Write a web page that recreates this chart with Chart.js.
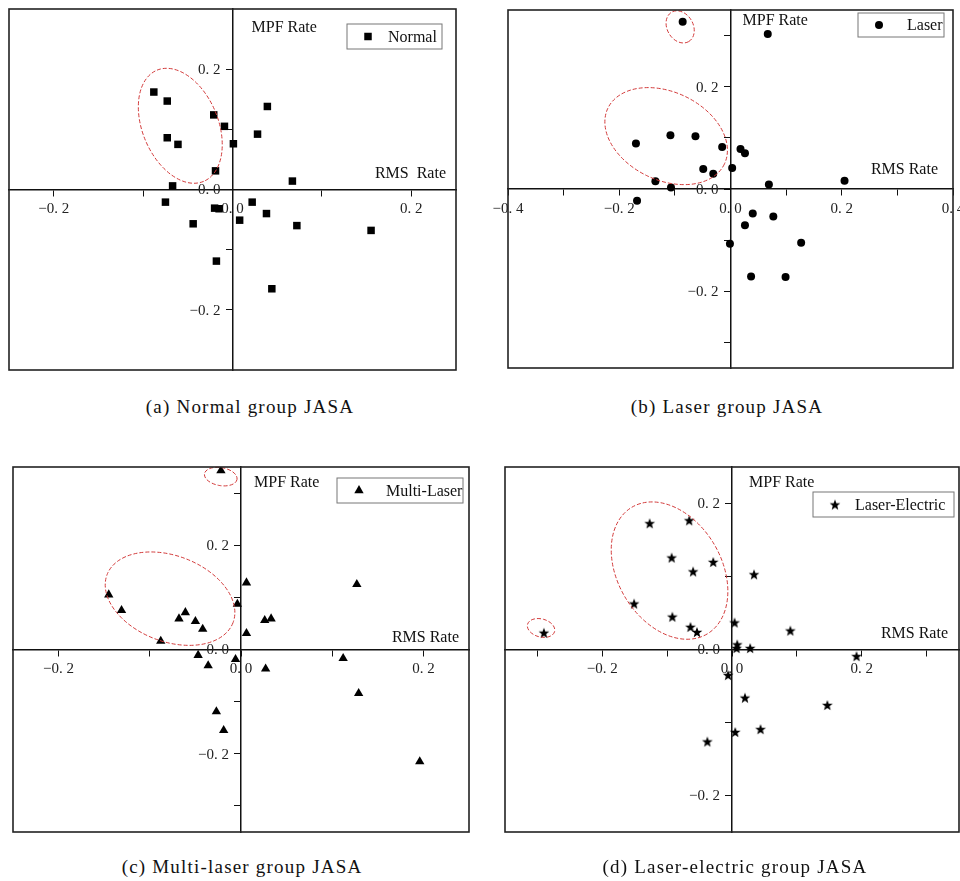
<!DOCTYPE html>
<html>
<head>
<meta charset="utf-8">
<script src="https://cdn.jsdelivr.net/npm/chart.js@4.4.1/dist/chart.umd.min.js"></script>
<style>
  html, body { margin: 0; padding: 0; background: #fff; overflow: hidden; }
  body { width: 960px; height: 881px; position: relative; }
  canvas { position: absolute; }
  .cap {
    position: absolute; width: 320px; text-align: center; white-space: nowrap;
    font-family: "Liberation Serif", serif; font-size: 19px; line-height: 19px;
    letter-spacing: 1.2px; color: #111;
  }
</style>
</head>
<body>
<canvas id="chart-a"></canvas>
<canvas id="chart-b"></canvas>
<canvas id="chart-c"></canvas>
<canvas id="chart-d"></canvas>
<div class="cap" style="left:90px; top:397px;">(a) Normal group JASA</div>
<div class="cap" style="left:567px; top:397px;">(b) Laser group JASA</div>
<div class="cap" style="left:82px; top:857px;">(c) Multi-laser group JASA</div>
<div class="cap" style="left:575px; top:857px;">(d) Laser-electric group JASA</div>
<script>
// (a) Normal group
const normalX = [-0.088, -0.073, -0.021, -0.009, 0.039, 0.028, 0.001, -0.073, -0.061, -0.019, 0.067, -0.067,
  -0.075, -0.020, -0.015, -0.044, 0.008, 0.022, 0.038, 0.072, 0.155, -0.018, 0.044];
const normalY = [0.162, 0.147, 0.124, 0.105, 0.138, 0.092, 0.076, 0.086, 0.075, 0.031, 0.014, 0.006,
  -0.021, -0.031, -0.032, -0.057, -0.051, -0.021, -0.040, -0.060, -0.068, -0.119, -0.165];

// (b) Laser group
const laserX = [-0.086, 0.067, -0.170, -0.108, -0.063, -0.015, 0.018, 0.026, 0.003, -0.049, -0.031, -0.135,
  -0.107, 0.069, 0.205, -0.168, 0.040, 0.077, 0.026, -0.001, 0.127, 0.037, 0.099];
const laserY = [0.327, 0.303, 0.089, 0.105, 0.103, 0.082, 0.078, 0.070, 0.041, 0.039, 0.030, 0.015,
  0.003, 0.009, 0.016, -0.023, -0.048, -0.054, -0.071, -0.107, -0.105, -0.171, -0.172];

// (c) Multi-laser group
const multiX = [-0.022, 0.006, 0.127, -0.145, -0.131, -0.004, -0.061, -0.068, -0.050, -0.042, 0.026, 0.033,
  0.006, -0.088, -0.047, -0.036, -0.006, 0.027, 0.112, 0.129, -0.027, -0.019, 0.196];
const multiY = [0.343, 0.128, 0.125, 0.105, 0.075, 0.087, 0.071, 0.059, 0.054, 0.039, 0.056, 0.059,
  0.031, 0.016, -0.011, -0.031, -0.019, -0.037, -0.017, -0.084, -0.119, -0.155, -0.215];

// (d) Laser-electric group
const elecX = [-0.127, -0.066, -0.093, -0.029, -0.060, 0.034, -0.151, -0.092, -0.064, -0.054, 0.004, 0.090,
  -0.290, 0.008, 0.007, 0.028, 0.192, -0.006, 0.020, 0.147, 0.044, 0.005, -0.038];
const elecY = [0.173, 0.177, 0.126, 0.120, 0.107, 0.103, 0.063, 0.045, 0.031, 0.024, 0.037, 0.026,
  0.023, 0.007, 0.002, 0.002, -0.009, -0.035, -0.066, -0.076, -0.109, -0.113, -0.126];

// tick positions (labels only on the even ones)
const ticksA_X = [-0.2, -0.1, 0, 0.1, 0.2];
const ticksA_Y = [-0.2, -0.1, 0, 0.1, 0.2];
const ticksB_X = [-0.4, -0.3, -0.2, -0.1, 0, 0.1, 0.2, 0.3, 0.4];
const ticksB_Y = [-0.3, -0.2, -0.1, 0, 0.1, 0.2, 0.3];
const ticksC_X = [-0.2, -0.1, 0, 0.1, 0.2];
const ticksC_Y = [-0.3, -0.2, -0.1, 0, 0.1, 0.2, 0.3];
const ticksD_X = [-0.3, -0.2, -0.1, 0, 0.1, 0.2, 0.3];
const ticksD_Y = [-0.2, -0.1, 0, 0.1, 0.2];

const SERIF = '"Liberation Serif", "Times New Roman", serif';
const PAD = 24;

function makeStar(r) {
  const c = document.createElement('canvas');
  const s = Math.ceil(r * 2) + 2;
  c.width = s; c.height = s;
  const g = c.getContext('2d');
  g.fillStyle = '#000';
  g.beginPath();
  for (let i = 0; i < 10; i++) {
    const ang = -Math.PI / 2 + i * Math.PI / 5;
    const rr = i % 2 ? r * 0.42 : r;
    const px = s / 2 + rr * Math.cos(ang);
    const py = s / 2 + 0.6 + rr * Math.sin(ang);
    if (i === 0) g.moveTo(px, py); else g.lineTo(px, py);
  }
  g.closePath();
  g.fill();
  return c;
}
const starImg = makeStar(5.6);

function tickLabel(value) {
  const t = Math.round(value * 10);
  if (Math.abs(value * 10 - t) > 1e-6 || t % 2 !== 0) return '';
  return (t < 0 ? '\u2212' : '') + (Math.abs(t) / 10).toFixed(1).replace('.', '. ');
}

function drawMarker(ctx, style, r, x, y) {
  if (typeof style !== 'string') {
    ctx.drawImage(style, x - style.width / 2, y - style.height / 2);
    return;
  }
  ctx.beginPath();
  if (style === 'rect') {
    const h = r * Math.SQRT1_2;
    ctx.rect(x - h, y - h, 2 * h, 2 * h);
  } else if (style === 'circle') {
    ctx.arc(x, y, r, 0, Math.PI * 2);
  } else if (style === 'triangle') {
    for (let i = 0; i < 3; i++) {
      const a = i * 2 * Math.PI / 3;
      const px = x + r * Math.sin(a), py = y - r * Math.cos(a);
      if (i === 0) ctx.moveTo(px, py); else ctx.lineTo(px, py);
    }
    ctx.closePath();
  }
  ctx.fill();
}

// frame, ellipses, axis names, y tick labels and legend box
function panelPlugin(cfg) {
  return {
    id: 'panel',
    beforeDatasetsDraw(chart) {
      // y labels sit left of the centred axis (Chart.js puts them on the line)
      const ctx = chart.ctx;
      const sx = chart.scales.x, sy = chart.scales.y;
      const ox = sx.getPixelForValue(0);
      ctx.save();
      ctx.fillStyle = '#222';
      ctx.font = '15px ' + SERIF;
      ctx.textAlign = 'right';
      ctx.textBaseline = 'middle';
      sy.ticks.forEach((t) => {
        const lbl = tickLabel(t.value);
        if (lbl) ctx.fillText(lbl, ox - 12, sy.getPixelForValue(t.value) + 1);
      });
      ctx.restore();
    },
    afterDraw(chart) {
      const ctx = chart.ctx;
      const area = chart.chartArea;
      const sx = chart.scales.x, sy = chart.scales.y;
      const ox = sx.getPixelForValue(0), oy = sy.getPixelForValue(0);
      ctx.save();

      ctx.strokeStyle = '#d23a3a';
      ctx.lineWidth = 1;
      ctx.setLineDash([4, 2]);
      cfg.ellipses.forEach((e) => {
        ctx.beginPath();
        ctx.ellipse(sx.getPixelForValue(e.x), sy.getPixelForValue(e.y), e.a, e.b,
          e.angle * Math.PI / 180, 0, Math.PI * 2);
        ctx.stroke();
      });
      ctx.setLineDash([]);

      ctx.strokeStyle = '#222';
      ctx.lineWidth = 1.6;
      ctx.strokeRect(area.left, area.top, area.right - area.left, area.bottom - area.top);

      ctx.fillStyle = '#111';
      ctx.font = '16px ' + SERIF;
      ctx.textBaseline = 'alphabetic';
      ctx.textAlign = 'left';
      ctx.fillText('MPF Rate', ox + cfg.mpf.dx, area.top + cfg.mpf.dy);
      ctx.textAlign = 'right';
      ctx.fillText(cfg.rms.text, area.right - cfg.rms.dx, oy - cfg.rms.dy);

      const lg = cfg.legend;
      const bx = area.right - lg.right - lg.w, by = area.top + lg.top;
      ctx.fillStyle = '#fff';
      ctx.fillRect(bx, by, lg.w, lg.h);
      ctx.strokeStyle = '#777';
      ctx.lineWidth = 1;
      ctx.strokeRect(bx, by, lg.w, lg.h);
      ctx.fillStyle = '#000';
      drawMarker(ctx, cfg.pointStyle, cfg.radius, bx + lg.markerX, by + lg.h / 2);
      ctx.fillStyle = '#111';
      ctx.textAlign = 'left';
      ctx.textBaseline = 'middle';
      ctx.fillText(chart.data.datasets[0].label, bx + lg.textX, by + lg.h / 2 + 1);
      ctx.restore();
    },
  };
}

function axisOptions(min, max, tickValues, isX) {
  return {
    type: 'linear',
    min: min,
    max: max,
    position: isX ? { y: 0 } : { x: 0 },
    afterBuildTicks(scale) {
      scale.ticks = tickValues.map((v) => ({ value: v }));
    },
    grid: { drawOnChartArea: false, drawTicks: true, tickLength: 6, color: '#111', lineWidth: 1 },
    border: { display: true, color: '#111', width: 1.5 },
    ticks: {
      display: isX,
      autoSkip: false,
      maxRotation: 0,
      padding: 5,
      color: '#222',
      font: { family: SERIF, size: 15 },
      callback: tickLabel,
    },
  };
}

function createPanel(id, frame, xs, ys, cfg) {
  const canvas = document.getElementById(id);
  canvas.width = frame.w + 2 * PAD;
  canvas.height = frame.h + 2 * PAD;
  canvas.style.left = (frame.left - PAD) + 'px';
  canvas.style.top = (frame.top - PAD) + 'px';
  const points = xs.map((x, i) => ({ x: x, y: ys[i] }));
  return new Chart(canvas.getContext('2d'), {
    type: 'scatter',
    data: {
      datasets: [{
        label: cfg.label,
        data: points,
        pointStyle: cfg.pointStyle,
        pointRadius: cfg.radius,
        pointHoverRadius: cfg.radius,
        pointBackgroundColor: '#000',
        pointBorderWidth: 0,
      }],
    },
    options: {
      responsive: false,
      animation: false,
      devicePixelRatio: 1,
      layout: { padding: PAD },
      plugins: { legend: { display: false }, tooltip: { enabled: false } },
      scales: {
        x: axisOptions(cfg.xRange[0], cfg.xRange[1], cfg.xTicks, true),
        y: axisOptions(cfg.yRange[0], cfg.yRange[1], cfg.yTicks, false),
      },
    },
    plugins: [panelPlugin(cfg)],
  });
}

createPanel('chart-a', { left: 9, top: 9, w: 447, h: 361 }, normalX, normalY, {
  label: 'Normal', pointStyle: 'rect', radius: 5.3,
  xRange: [-0.25, 0.25], yRange: [-0.3, 0.3], xTicks: ticksA_X, yTicks: ticksA_Y,
  ellipses: [{ x: -0.0584, y: 0.1059, a: 60.3, b: 37.8, angle: 67.2 }],
  mpf: { dx: 19, dy: 23 }, rms: { text: 'RMS  Rate', dx: 10, dy: 12 },
  legend: { right: 14, top: 15, w: 95, h: 25, markerX: 21, textX: 41 },
});

createPanel('chart-b', { left: 508, top: 10, w: 445, h: 358 }, laserX, laserY, {
  label: 'Laser', pointStyle: 'circle', radius: 4,
  xRange: [-0.4, 0.4], yRange: [-0.35, 0.35], xTicks: ticksB_X, yTicks: ticksB_Y,
  ellipses: [
    { x: -0.0905, y: 0.317, a: 17, b: 13, angle: 60 },
    { x: -0.1157, y: 0.1034, a: 64.6, b: 44, angle: 25.6 },
  ],
  mpf: { dx: 12, dy: 15 }, rms: { text: 'RMS Rate', dx: 15, dy: 15 },
  legend: { right: 9, top: 3, w: 86, h: 24, markerX: 21, textX: 49 },
});

createPanel('chart-c', { left: 13, top: 467, w: 456, h: 365 }, multiX, multiY, {
  label: 'Multi-Laser', pointStyle: 'triangle', radius: 5.4,
  xRange: [-0.25, 0.25], yRange: [-0.35, 0.35], xTicks: ticksC_X, yTicks: ticksC_Y,
  ellipses: [
    { x: -0.0222, y: 0.3316, a: 16.5, b: 9, angle: 10 },
    { x: -0.0778, y: 0.0975, a: 67.4, b: 42.9, angle: 20.8 },
  ],
  mpf: { dx: 13, dy: 20 }, rms: { text: 'RMS Rate', dx: 10, dy: 8 },
  legend: { right: 6, top: 11, w: 126, h: 25, markerX: 22, textX: 49 },
});

createPanel('chart-d', { left: 505, top: 467, w: 454, h: 365 }, elecX, elecY, {
  label: 'Laser-Electric', pointStyle: starImg, radius: 5,
  xRange: [-0.35, 0.35], yRange: [-0.25, 0.25], xTicks: ticksD_X, yTicks: ticksD_Y,
  ellipses: [
    { x: -0.2944, y: 0.0295, a: 14, b: 9, angle: 15 },
    { x: -0.0963, y: 0.1081, a: 73.7, b: 51.8, angle: 59.3 },
  ],
  mpf: { dx: 17, dy: 20 }, rms: { text: 'RMS Rate', dx: 11, dy: 12 },
  legend: { right: 5, top: 25, w: 141, h: 25, markerX: 22, textX: 42 },
});
</script>
</body>
</html>
